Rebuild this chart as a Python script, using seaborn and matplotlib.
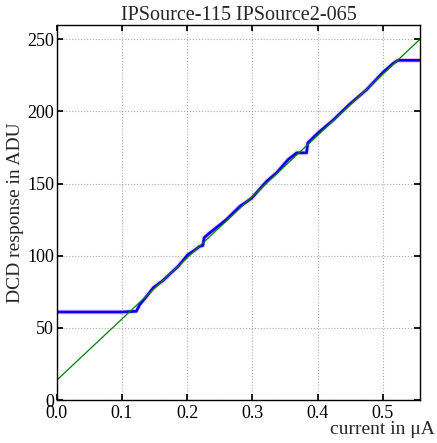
import matplotlib
matplotlib.use("Agg")
import matplotlib.pyplot as plt
import numpy as np
import pandas as pd
import seaborn as sns

# ── Data ──────────────────────────────────────────────────────────────────
current_ua = [0.0, 0.05, 0.10, 0.122, 0.127, 0.138, 0.148, 0.163, 0.175,
              0.186, 0.201, 0.212, 0.219, 0.224, 0.226, 0.235, 0.26, 0.281,
              0.290, 0.299, 0.322, 0.337, 0.355, 0.368, 0.383, 0.385, 0.401,
              0.424, 0.449, 0.475, 0.50, 0.516, 0.523, 0.557]
dcd_adu = [61.0, 61.0, 61.0, 61.5, 66.0, 72.0, 77.8, 82.9, 88.0,
           92.6, 100.7, 104.0, 106.5, 107.0, 112.5, 116.0, 125.0, 134.3,
           137.0, 140.0, 151.6, 157.4, 166.7, 171.3, 171.3, 178.2, 185.2,
           194.0, 204.9, 215.0, 226.9, 233.3, 235.4, 235.4]

fit_slope = 424.0      # ADU per uA
fit_intercept = 13.8   # ADU

x_max, y_max = 0.557, 260
x_ticks = [0.0, 0.1, 0.2, 0.3, 0.4, 0.5]
y_ticks = [0, 50, 100, 150, 200, 250]

# ── Style: old-school matplotlib look ─────────────────────────────────────
sns.set_theme(style="ticks")
plt.rcParams.update({
    "font.family": ["Liberation Serif", "DejaVu Serif"],
    "xtick.direction": "in", "ytick.direction": "in",
    "xtick.top": True, "ytick.right": True,
    "xtick.major.size": 4, "ytick.major.size": 4,
    "axes.edgecolor": "black", "axes.linewidth": 1.0,
})

df = pd.DataFrame({"current": current_ua, "dcd": dcd_adu})
fit_x = np.array([0.0, x_max])
fit_df = pd.DataFrame({"current": fit_x, "dcd": fit_intercept + fit_slope * fit_x})

fig = plt.figure(figsize=(4.37, 4.43), dpi=100)
ax = fig.add_axes([0.130, 0.097, 0.831, 0.847])

# faint magenta halo under the measured trace
sns.lineplot(data=df, x="current", y="dcd", ax=ax, color="#ff66cc",
             lw=3.6, alpha=0.3, estimator=None, sort=False)
sns.lineplot(data=df, x="current", y="dcd", ax=ax, color="#0000ff",
             lw=2.0, estimator=None, sort=False)
sns.lineplot(data=fit_df, x="current", y="dcd", ax=ax, color="#008000",
             lw=0.9, estimator=None, sort=False)

ax.set_xlim(0, x_max)
ax.set_ylim(0, y_max)
ax.set_xticks(x_ticks)
ax.set_yticks(y_ticks)
ax.set_xticklabels([f"{t:.1f}" for t in x_ticks], fontsize=13)
ax.set_yticklabels([str(t) for t in y_ticks], fontsize=13)
ax.tick_params(axis="x", pad=3.5, colors="black")
ax.tick_params(axis="y", pad=2, colors="black")
ax.grid(True, color="#aaaaaa", linestyle=":", linewidth=0.8)

ax.set_title("IPSource-115 IPSource2-065", fontsize=14.5, pad=1)
ax.set_ylabel("DCD response in ADU", fontsize=14, labelpad=2)
ax.set_xlabel("current in \u03bcA", fontsize=14)
ax.xaxis.set_label_coords(1.04, -0.056)
ax.xaxis.label.set_horizontalalignment("right")

fig.savefig("out.png", dpi=100)
plt.close(fig)
